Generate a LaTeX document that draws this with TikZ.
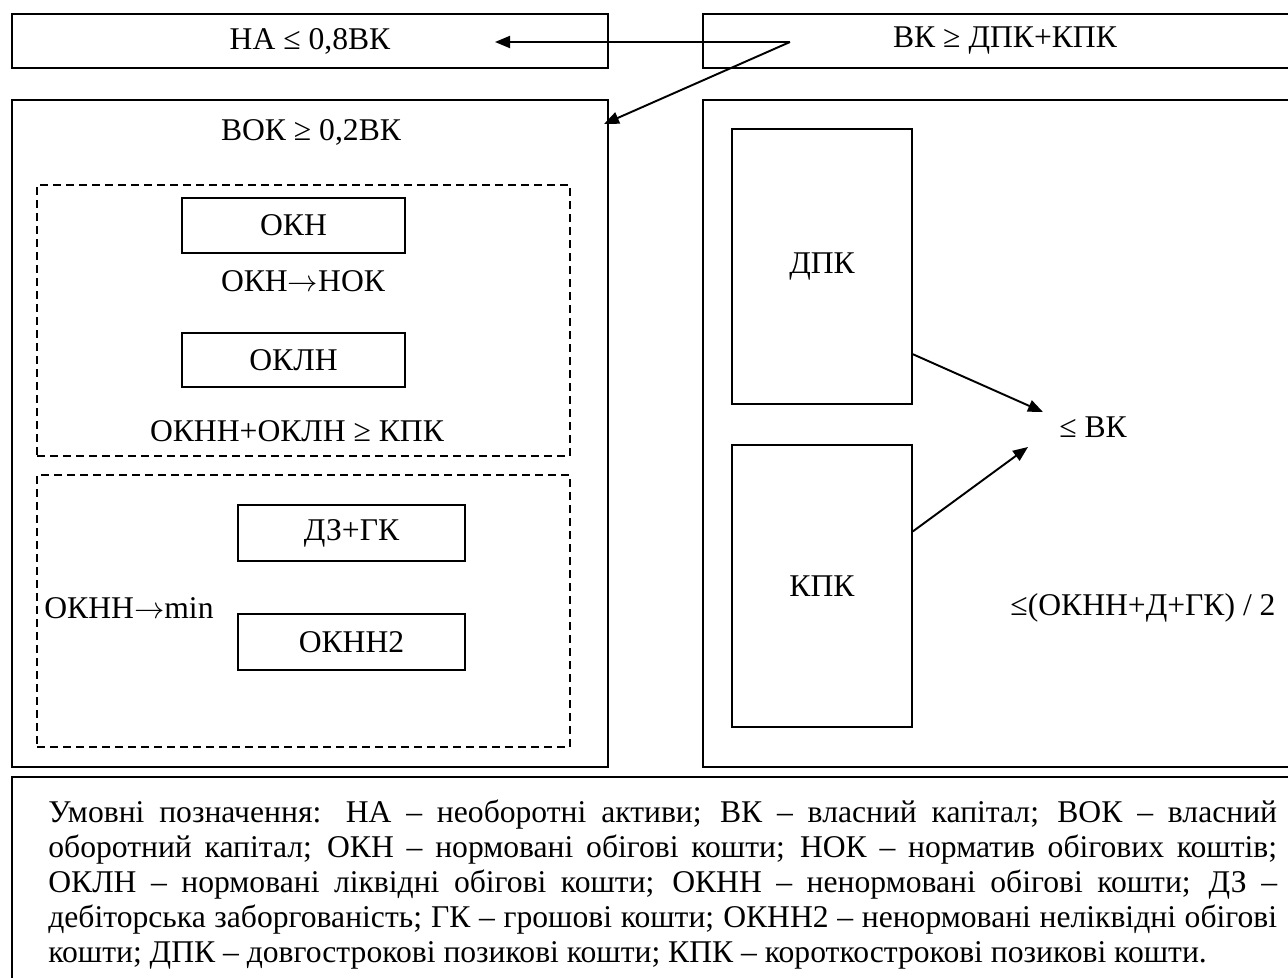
\documentclass[tikz,border=0pt]{standalone}
\usepackage{fontspec}
\setmainfont{Liberation Serif}
\usetikzlibrary{arrows.meta}

\begin{document}
\begin{tikzpicture}[x=0.02cm, y=-0.02cm,
      box/.style={draw, rectangle, line width=1.1pt, inner sep=0pt},
      cell/.style={draw, rectangle, line width=0.9pt, inner sep=0pt},
      zone/.style={draw, rectangle, line width=0.9pt, dash pattern=on 0.16cm off 0.1cm, inner sep=0pt},
      wire/.style={line width=1.1pt, -{Triangle[length=0.3cm, width=0.24cm]}},
      every node/.style={font=\fontsize{18}{20}\selectfont}
    ]
      \clip (0,0) rectangle (1288,977);

      \node[box, minimum width=11.92cm, minimum height=1.08cm] (na) at (310,41) {НА ≤ 0,8ВК};
      \node[box, minimum width=12.08cm, minimum height=1.08cm] (vk) at (1005,41) {ВК ≥ ДПК+КПК};

      \node[box, minimum width=11.92cm, minimum height=13.34cm] (left) at (310,433.5) {};
      \node[box, minimum width=12.08cm, minimum height=13.34cm] (right) at (1005,433.5) {};
      \node[box, minimum width=25.9cm, minimum height=4.46cm] (legend) at (659.5,888.5) {};

      \node (vok) at (311,132) {ВОК ≥ 0,2ВК};

      \node[zone, minimum width=10.66cm, minimum height=5.42cm] (norm) at (303.5,320.5) {};
      \node[cell, minimum width=4.46cm, minimum height=1.1cm] (okn) at (293.5,225.5) {ОКН};
      \node (nok) at (303,281) {ОКН$\rightarrow$НОК};
      \node[cell, minimum width=4.46cm, minimum height=1.08cm] (okln) at (293.5,360) {ОКЛН};
      \node (cond) at (297,431) {ОКНН+ОКЛН ≥ КПК};

      \node[zone, minimum width=10.66cm, minimum height=5.44cm] (unnorm) at (303.5,611) {};
      \node[cell, minimum width=4.54cm, minimum height=1.12cm] (dzgk) at (351.5,533) {ДЗ+ГК};
      \node (min) at (129,608) {ОКНН$\rightarrow$min};
      \node[cell, minimum width=4.54cm, minimum height=1.12cm] (oknn2) at (351.5,642) {ОКНН2};

      \node[cell, minimum width=3.6cm, minimum height=5.5cm] (dpk) at (822,266.5) {ДПК};
      \node[cell, minimum width=3.6cm, minimum height=5.64cm] (kpk) at (822,586) {КПК};
      \node (levk) at (1093,427) {≤ ВК};
      \node (half) at (1143,608) {≤(ОКНН+Д+ГК) / 2};

      \coordinate (src) at (790,42);
      \coordinate (natip) at (495,42);
      \coordinate (voktip) at (604,124);
      \coordinate (uptip) at (1043,412);
      \coordinate (lowtip) at (1028,447);

      \draw[wire] (src) -- (natip);
      \draw[wire] (src) -- (voktip);
      \draw[wire] (dpk.-44.5) -- (uptip);
      \draw[wire] (kpk.31) -- (lowtip);

      \node[anchor=north west, text width=24.58cm, align=justify, inner sep=0pt,
            font=\fontsize{18}{19.9}\selectfont] (key) at (48,800)
        {\hyphenpenalty=10000 Умовні позначення: НА – необоротні активи; ВК – власний капітал; ВОК – власний\linebreak
         оборотний капітал; ОКН – нормовані обігові кошти; НОК – норматив обігових коштів;\linebreak
         ОКЛН – нормовані ліквідні обігові кошти; ОКНН – ненормовані обігові кошти; ДЗ –\linebreak
         дебіторська заборгованість; ГК – грошові кошти; ОКНН2 – ненормовані неліквідні обігові\linebreak
         кошти; ДПК – довгострокові позикові кошти; КПК – короткострокові позикові кошти.};
    \end{tikzpicture}
\end{document}
